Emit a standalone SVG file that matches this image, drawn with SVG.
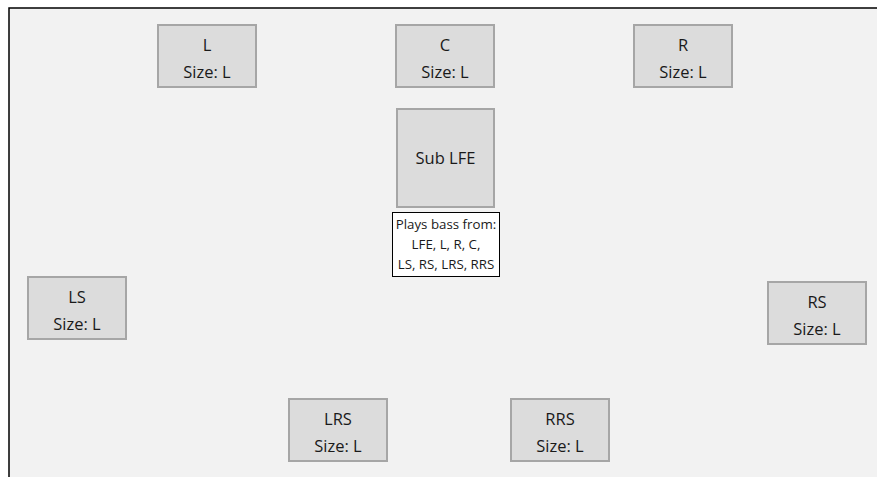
<svg xmlns="http://www.w3.org/2000/svg" width="877" height="477" viewBox="0 0 877 477">
<style>
.bg{fill:#f2f2f2}
.frame{stroke:#000;stroke-width:1.5;fill:none}
.spk{fill:#dcdcdc;stroke:#a6a6a6;stroke-width:2}
.note{fill:#fff;stroke:#000;stroke-width:1}
text{font-family:"Open Sans","Liberation Sans",sans-serif;fill:#1a1a1a;text-anchor:middle}
.t{font-size:16.5px}
.s{font-size:13.3px}
</style>
<rect x="0" y="0" width="877" height="477" fill="#fff"/>
<rect class="bg" x="9" y="8" width="868" height="469"/>
<path class="frame" d="M9,477 V8 H877"/>
<g id="L"><rect class="spk" x="158" y="25" width="98" height="62"/><text class="t" x="207" y="51">L</text><text class="t" x="207" y="78">Size: L</text></g>
<g id="C"><rect class="spk" x="396" y="25" width="98" height="62"/><text class="t" x="445" y="51">C</text><text class="t" x="445" y="78">Size: L</text></g>
<g id="R"><rect class="spk" x="634" y="25" width="98" height="62"/><text class="t" x="683" y="51">R</text><text class="t" x="683" y="78">Size: L</text></g>
<g id="SubLFE"><rect class="spk" x="397" y="109" width="97" height="98"/><text class="t" x="445.5" y="164">Sub LFE</text></g>
<g id="note"><rect class="note" x="392.5" y="212.5" width="107" height="64"/><text class="s" x="446" y="229">Plays bass from:</text><text class="s" x="446" y="249">LFE, L, R, C,</text><text class="s" x="446" y="269">LS, RS, LRS, RRS</text></g>
<g id="LS"><rect class="spk" x="28" y="277" width="98" height="62"/><text class="t" x="77" y="303">LS</text><text class="t" x="77" y="330">Size: L</text></g>
<g id="RS"><rect class="spk" x="768" y="282" width="98" height="62"/><text class="t" x="817" y="308">RS</text><text class="t" x="817" y="335">Size: L</text></g>
<g id="LRS"><rect class="spk" x="289" y="399" width="98" height="62"/><text class="t" x="338" y="425">LRS</text><text class="t" x="338" y="452">Size: L</text></g>
<g id="RRS"><rect class="spk" x="511" y="399" width="98" height="62"/><text class="t" x="560" y="425">RRS</text><text class="t" x="560" y="452">Size: L</text></g>
<g id="connectors"></g>
</svg>
